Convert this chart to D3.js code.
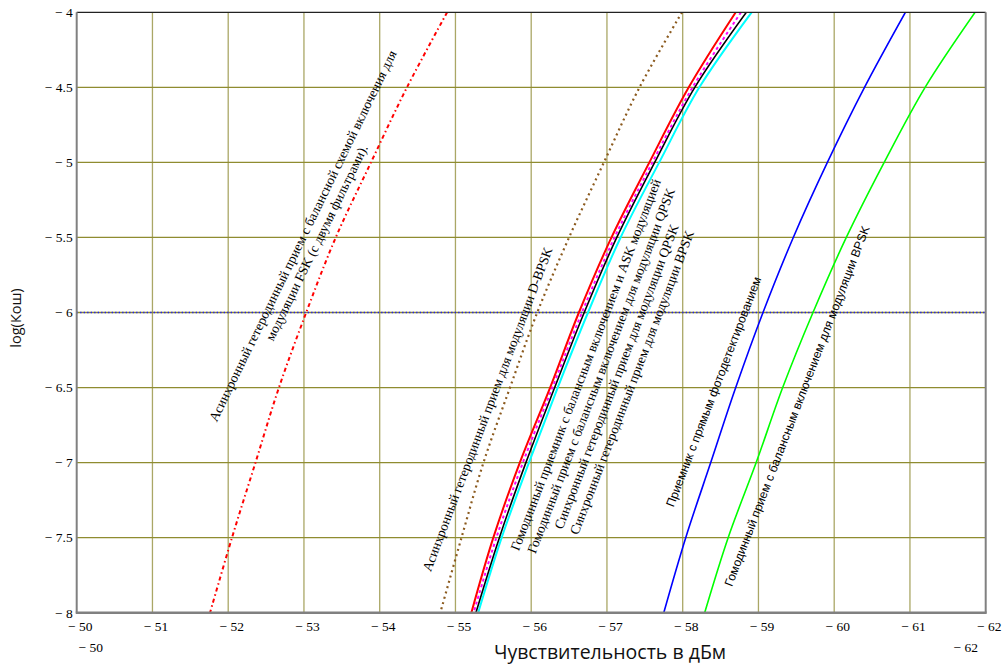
<!DOCTYPE html>
<html><head><meta charset="utf-8">
<script src="https://cdn.jsdelivr.net/npm/d3@7"></script>
<style>
html,body{margin:0;padding:0;background:#fff;}
svg{display:block;}
.serif{font-family:"Liberation Serif","Times New Roman",Tinos,serif;}
.sans{font-family:"Liberation Sans",Arial,Arimo,sans-serif;}
.title{font-family:"Open Sans","Noto Sans",sans-serif;}
</style></head>
<body>
<svg id="chart" width="1002" height="665"></svg>
<script>
// ---- data ----
const yLevels = [-4, -4.5, -5, -5.5, -6, -6.5, -7, -7.5, -8];
const fskAsync   = [-54.89, -54.36, -53.885, -53.42, -53.03, -52.67, -52.36, -52.05, -51.76];
const dbpskAsync = [-57.99, -57.43, -56.96, -56.50, -56.08, -55.72, -55.37, -55.08, -54.80];
const homoAsk    = [-58.70, -58.08, -57.56, -57.06, -56.63, -56.25, -55.85, -55.50, -55.21];
const homoQpsk   = [-58.77, -58.13, -57.60, -57.10, -56.67, -56.28, -55.89, -55.54, -55.24];
const syncQpsk   = [-58.84, -58.16, -57.63, -57.13, -56.70, -56.31, -55.93, -55.58, -55.27];
const syncBpsk   = [-58.91, -58.22, -57.69, -57.18, -56.75, -56.35, -55.97, -55.61, -55.30];
const directDet  = [-60.94, -60.40, -59.91, -59.46, -59.06, -58.70, -58.37, -58.04, -57.75];
const homoBpsk   = [-61.86, -61.20, -60.66, -60.16, -59.72, -59.32, -58.97, -58.60, -58.29];
const thresholdLevel = [-6];
const xTicks = [-50, -51, -52, -53, -54, -55, -56, -57, -58, -59, -60, -61, -62];
const yTicks = [-4, -4.5, -5, -5.5, -6, -6.5, -7, -7.5, -8];
const xDomain = [-50, -62];
const yDomain = [-8, -4];
const xTitle = "Чувствительность в дБм";
const yTitle = "log(Кош)";

const labelA = ["Асинхронный гетеродинный прием с балансной схемой включения для", "модуляции FSK (с двумя фильтрами)."];
const labelB = ["Асинхронный гетеродинный прием для модуляции D-BPSK"];
const labelC = ["Гомодинный приемник с балансным включением и ASK модуляцией",
                "Гомодинный прием с балансным включением для модуляции QPSK",
                "Синхронный гетеродинный прием для модуляции QPSK",
                "Синхронный гетеродинный прием для модуляции BPSK"];
const labelD = ["Приемник с прямым фотодетектированием"];
const labelE = ["Гомодинный прием с балансным включением для модуляции BPSK"];

// ---- layout ----
const svg = d3.select("#chart");
const L = 76.7, R = 985.7, T = 12.3, B = 612.7;
const x = d3.scaleLinear().domain(xDomain).range([L, R]);
const y = d3.scaleLinear().domain(yDomain).range([B, T]);
const fmt = v => "\u2212 " + String(Math.abs(v));

// grid
const grid = svg.append("g");
grid.selectAll("line.v").data(xTicks.slice(1, -1)).join("line")
  .attr("x1", d => x(d)).attr("x2", d => x(d)).attr("y1", T).attr("y2", B)
  .attr("stroke", "#aaa766").attr("stroke-width", 1.3);
grid.selectAll("line.h").data(yTicks.slice(1, -1)).join("line")
  .attr("x1", L).attr("x2", R).attr("y1", d => y(d)).attr("y2", d => y(d))
  .attr("stroke", "#8f8c30").attr("stroke-width", 1.3);

// threshold dotted line
svg.selectAll("line.thr").data(thresholdLevel).join("line")
  .attr("x1", L).attr("x2", R).attr("y1", d => y(d)).attr("y2", d => y(d))
  .attr("stroke", "#1a1aff").attr("stroke-width", 1.5).attr("stroke-dasharray", "1.3,2.2");

// curves
const series = [
  {v: fskAsync,   c: "#ff0000", w: 2,   dash: "4,3,1.5,3"},
  {v: dbpskAsync, c: "#8b5a1e", w: 2.2, dash: "2,3.5"},
  {v: syncBpsk,   c: "#00ffff", w: 2,   dash: null},
  {v: syncQpsk,   c: "#000000", w: 1.6, dash: null},
  {v: homoQpsk,   c: "#ff00ff", w: 2,   dash: "3,3"},
  {v: homoAsk,    c: "#ff0000", w: 2,   dash: null},
  {v: directDet,  c: "#0000ff", w: 1.6, dash: null},
  {v: homoBpsk,   c: "#00ff00", w: 1.6, dash: null}
];
const line = d3.line().x(d => x(d[0])).y(d => y(d[1])).curve(d3.curveCatmullRom);
svg.append("defs").append("clipPath").attr("id", "clip")
  .append("rect").attr("x", L).attr("y", T).attr("width", R - L).attr("height", B - T);
const curves = svg.append("g").attr("clip-path", "url(#clip)");
series.forEach(s => {
  curves.append("path")
    .attr("d", line(s.v.map((v, i) => [v, yLevels[i]])))
    .attr("fill", "none").attr("stroke", s.c).attr("stroke-width", s.w)
    .attr("stroke-dasharray", s.dash);
});

// frame
svg.append("line").attr("x1", L).attr("x2", R).attr("y1", T).attr("y2", T).attr("stroke", "#222").attr("stroke-width", 1.3);
svg.append("line").attr("x1", R).attr("x2", R).attr("y1", T).attr("y2", B).attr("stroke", "#808080").attr("stroke-width", 2);
svg.append("line").attr("x1", L).attr("x2", L).attr("y1", T).attr("y2", B).attr("stroke", "#808080").attr("stroke-width", 2);
svg.append("line").attr("x1", L - 1).attr("x2", R + 1).attr("y1", B).attr("y2", B).attr("stroke", "#808080").attr("stroke-width", 2.4);

// axes (labels only)
const xAxis = svg.append("g").attr("transform", `translate(0,${B})`)
  .call(d3.axisBottom(x).tickValues(xTicks).tickFormat(fmt).tickSize(0).tickPadding(9));
const yAxis = svg.append("g").attr("transform", `translate(${L},0)`)
  .call(d3.axisLeft(y).tickValues(yTicks).tickFormat(fmt).tickSize(0).tickPadding(4));
[xAxis, yAxis].forEach(a => {
  a.attr("font-family", null).attr("font-size", null);
  a.select(".domain").remove();
  a.selectAll("text").attr("class", "serif").style("font-size", "13.5px").attr("fill", "#000");
});
xAxis.selectAll("text").attr("dx", 3);

// range limit labels
svg.selectAll("text.lim").data([xDomain[0], xDomain[1]]).join("text")
  .attr("class", "serif")
  .attr("x", (d, i) => x(d) + (i === 0 ? 14 : -20))
  .attr("y", 652)
  .attr("text-anchor", "middle").style("font-size", "13.5px")
  .text(fmt);

// titles
svg.append("text").attr("class", "title").attr("x", 610).attr("y", 659).attr("text-anchor", "middle")
  .style("font-size", "19.5px").attr("fill", "#111")
  .text(xTitle);
svg.append("text").attr("class", "title").attr("transform", "translate(21,318) rotate(-90)").attr("text-anchor", "middle")
  .style("font-size", "14.5px").attr("fill", "#111")
  .text(yTitle);

// curve labels
function label(lines, cx, cy, angle, cls, size, lh) {
  const g = svg.append("g").attr("transform", `translate(${x(cx)},${y(cy)}) rotate(${angle})`);
  g.selectAll("text").data(lines).join("text")
    .attr("class", cls)
    .attr("x", 0).attr("y", (d, i) => (i - (lines.length - 1) / 2) * lh)
    .attr("text-anchor", "middle").style("font-size", size + "px")
    .attr("fill", "#000").text(d => d);
}
label(labelA, -53.13, -5.525, -64, "serif", 13.5, 15.5);
label(labelB, -55.48, -6.655, -69.3, "serif", 13.5, 16);
label(labelC, -57.08, -6.418, -69, "serif", 13.5, 16.5);
label(labelD, -58.46, -6.538, -69, "sans", 12.2, 16);
label(labelE, -59.56, -6.633, -69, "sans", 12.2, 16);
</script>
</body></html>
